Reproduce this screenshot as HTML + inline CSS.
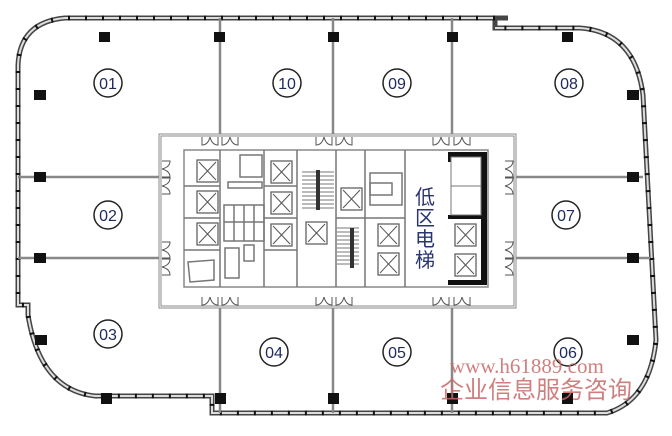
<!DOCTYPE html>
<html><head><meta charset="utf-8"><style>html,body{margin:0;padding:0;background:#fff}svg{display:block}</style></head>
<body>
<svg width="672" height="436" viewBox="0 0 672 436" xmlns="http://www.w3.org/2000/svg" font-family="Liberation Sans, sans-serif">
<defs>
<g id="el"><rect x="0" y="0" width="21" height="22" fill="#fff" stroke="#555" stroke-width="1.2"/><path d="M2 2L19 20M19 2L2 20" stroke="#555" stroke-width="1"/></g>
<g id="dr"><path d="M0 0 L0 8 Q6 8 8 0 M16 0 L16 8 Q10 8 8 0" fill="none" stroke="#555" stroke-width="1"/></g>
<g id="dv"><path d="M0 0 L8 0 Q8 6 0 8 M0 16 L8 16 Q8 10 0 8" fill="none" stroke="#555" stroke-width="1"/></g>
</defs>
<!-- outer wall -->
<g fill="none" stroke="#444" stroke-width="5">
<path d="M495 18 L65 18 Q20 22 18 65 L18 305 L28 305 L28 315 Q40 390 95 396 L212 396 L212 413 L607 413 Q650 400 656 340 L643 95 Q635 32 580 28 L495 28 L495 18 L508 18"/>
</g>
<g fill="none" stroke="#ddd" stroke-width="2">
<path d="M495 18 L65 18 Q20 22 18 65 L18 305 L28 305 L28 315 Q40 390 95 396 L212 396 L212 413 L607 413 Q650 400 656 340 L643 95 Q635 32 580 28 L495 28"/>
</g>
<g fill="none" stroke="#111" stroke-width="5" stroke-dasharray="2 15">
<path d="M495 18 L65 18 Q20 22 18 65 L18 305 L28 305 L28 315 Q40 390 95 396 L212 396 L212 413 L607 413 Q650 400 656 340 L643 95 Q635 32 580 28 L495 28"/>
</g>
<!-- partitions -->
<g stroke="#888" stroke-width="2.5">
<line x1="220" y1="18" x2="220" y2="135"/><line x1="333" y1="18" x2="333" y2="135"/><line x1="452" y1="18" x2="452" y2="135"/>
<line x1="220" y1="307" x2="220" y2="413"/><line x1="333" y1="307" x2="333" y2="413"/><line x1="452" y1="307" x2="452" y2="413"/>
<line x1="18" y1="177" x2="160" y2="177"/><line x1="18" y1="258" x2="160" y2="258"/>
<line x1="515" y1="177" x2="643" y2="177"/><line x1="515" y1="258" x2="650" y2="258"/>
</g>
<!-- core -->
<rect x="160" y="135" width="355" height="172" fill="#fff" stroke="#888" stroke-width="3"/>
<rect x="160" y="135" width="355" height="172" fill="none" stroke="#fff" stroke-width="1"/>
<rect x="184" y="150" width="304" height="137" fill="none" stroke="#888" stroke-width="1.5"/>
<!-- doors -->
<g>
<use href="#dr" x="202" y="137"/><use href="#dr" x="222" y="137"/><use href="#dr" x="316" y="137"/><use href="#dr" x="336" y="137"/><use href="#dr" x="433" y="137"/><use href="#dr" x="454" y="137"/>
<use href="#dr" x="202" y="297"/><use href="#dr" x="222" y="297"/><use href="#dr" x="316" y="297"/><use href="#dr" x="336" y="297"/><use href="#dr" x="433" y="297"/><use href="#dr" x="454" y="297"/>
<use href="#dv" x="162" y="161"/><use href="#dv" x="162" y="178"/><use href="#dv" x="162" y="242"/><use href="#dv" x="162" y="259"/>
<use href="#dv" x="505" y="161"/><use href="#dv" x="505" y="178"/><use href="#dv" x="505" y="242"/><use href="#dv" x="505" y="259"/>
</g>
<!-- inner walls -->
<g stroke="#777" stroke-width="1.5" fill="none">
<line x1="220" y1="150" x2="220" y2="287"/><line x1="264" y1="150" x2="264" y2="287"/><line x1="297" y1="150" x2="297" y2="287"/>
<line x1="365" y1="150" x2="365" y2="287"/><line x1="336" y1="150" x2="336" y2="287"/><line x1="405" y1="150" x2="405" y2="287"/>
<line x1="184" y1="186" x2="220" y2="186"/><line x1="184" y1="218" x2="220" y2="218"/><line x1="184" y1="250" x2="220" y2="250"/>
<line x1="264" y1="186" x2="297" y2="186"/><line x1="264" y1="218" x2="297" y2="218"/><line x1="264" y1="250" x2="297" y2="250"/>
<rect x="224" y="205" width="40" height="36"/><line x1="234" y1="205" x2="234" y2="241"/><line x1="244" y1="205" x2="244" y2="241"/><line x1="254" y1="205" x2="254" y2="241"/><line x1="224" y1="222" x2="264" y2="222"/>
<rect x="240" y="155" width="22" height="22"/><rect x="228" y="182" width="34" height="6"/>
<rect x="244" y="245" width="10" height="16"/><rect x="225" y="248" width="14" height="30"/>
<path d="M188 262 L214 260 L214 280 L190 282Z"/>
<line x1="336" y1="218" x2="405" y2="218"/>
<rect x="370" y="173" width="32" height="32"/><rect x="370" y="183" width="22" height="12"/>
</g>
<!-- stairs -->
<g stroke="#777" stroke-width="1">
<path d="M302 172h32M302 176h32M302 180h32M302 184h32M302 188h32M302 192h32M302 196h32M302 200h32M302 204h32M302 208h32"/>
<path d="M337 228h22M337 232h22M337 236h22M337 240h22M337 244h22M337 248h22M337 252h22M337 256h22M337 260h22M337 264h22"/>
</g>
<rect x="316" y="170" width="4" height="40" fill="#333"/><rect x="350" y="228" width="4" height="40" fill="#333"/>
<!-- elevators -->
<use href="#el" x="197" y="160"/><use href="#el" x="197" y="191"/><use href="#el" x="197" y="223"/>
<use href="#el" x="271" y="161"/><use href="#el" x="271" y="192"/><use href="#el" x="271" y="224"/>
<use href="#el" x="341" y="188"/><use href="#el" x="306" y="222"/>
<use href="#el" x="378" y="224"/><use href="#el" x="378" y="253"/>
<!-- black elevator block -->
<g fill="#111">
<rect x="448" y="152" width="37" height="5"/><rect x="481" y="152" width="6" height="133"/><rect x="448" y="215" width="37" height="4"/><rect x="448" y="280" width="39" height="5"/><rect x="448" y="152" width="3" height="10"/>
</g>
<rect x="451" y="157" width="30" height="58" fill="none" stroke="#777"/><line x1="451" y1="186" x2="481" y2="186" stroke="#777"/>
<use href="#el" x="455" y="224"/><use href="#el" x="455" y="254"/>
<!-- text -->
<g fill="#2a3570" font-family="Liberation Sans, Noto Sans CJK SC, sans-serif" font-size="20" text-anchor="middle">
<text x="425" y="204">低</text><text x="425" y="225">区</text><text x="425" y="246">电</text><text x="425" y="267">梯</text>
</g>
<!-- columns -->
<g fill="#111">
<rect x="99" y="32" width="11" height="10"/><rect x="214" y="32" width="11" height="10"/><rect x="328" y="32" width="11" height="10"/><rect x="447" y="32" width="11" height="10"/><rect x="562" y="32" width="11" height="10"/>
<rect x="34" y="90" width="12" height="10"/><rect x="34" y="172" width="12" height="10"/><rect x="34" y="253" width="12" height="10"/><rect x="35" y="335" width="12" height="10"/>
<rect x="627" y="90" width="12" height="10"/><rect x="627" y="172" width="12" height="10"/><rect x="627" y="253" width="12" height="10"/><rect x="627" y="335" width="12" height="10"/>
<rect x="101" y="393" width="11" height="11"/><rect x="215" y="393" width="11" height="11"/><rect x="328" y="393" width="11" height="11"/><rect x="447" y="393" width="11" height="11"/><rect x="562" y="393" width="11" height="11"/>
</g>
<!-- unit labels -->
<g fill="#fff" stroke="#222" stroke-width="1.5">
<circle cx="108" cy="83" r="14"/><circle cx="287" cy="83" r="14"/><circle cx="397" cy="83" r="14"/><circle cx="569" cy="83" r="14"/>
<circle cx="108" cy="215" r="14"/><circle cx="566" cy="215" r="14"/>
<circle cx="108" cy="334" r="14"/><circle cx="274" cy="352" r="14"/><circle cx="397" cy="352" r="14"/><circle cx="568" cy="352" r="14"/>
</g>
<g fill="#1e2a60" font-size="16" text-anchor="middle">
<text x="108" y="89">01</text><text x="287" y="89">10</text><text x="397" y="89">09</text><text x="569" y="89">08</text>
<text x="108" y="221">02</text><text x="566" y="221">07</text>
<text x="108" y="340">03</text><text x="274" y="358">04</text><text x="397" y="358">05</text><text x="568" y="358">06</text>
</g>
<!-- watermark -->
<g fill="#c86868" fill-opacity="0.85" font-family="Liberation Serif, Noto Serif CJK SC, serif">
<text x="450" y="373" font-size="21">www.h61889.com</text>
<text x="440" y="398" font-size="24" font-family="Liberation Serif, Noto Sans CJK SC, sans-serif">企业信息服务咨询</text>
</g>
</svg>
</body></html>
